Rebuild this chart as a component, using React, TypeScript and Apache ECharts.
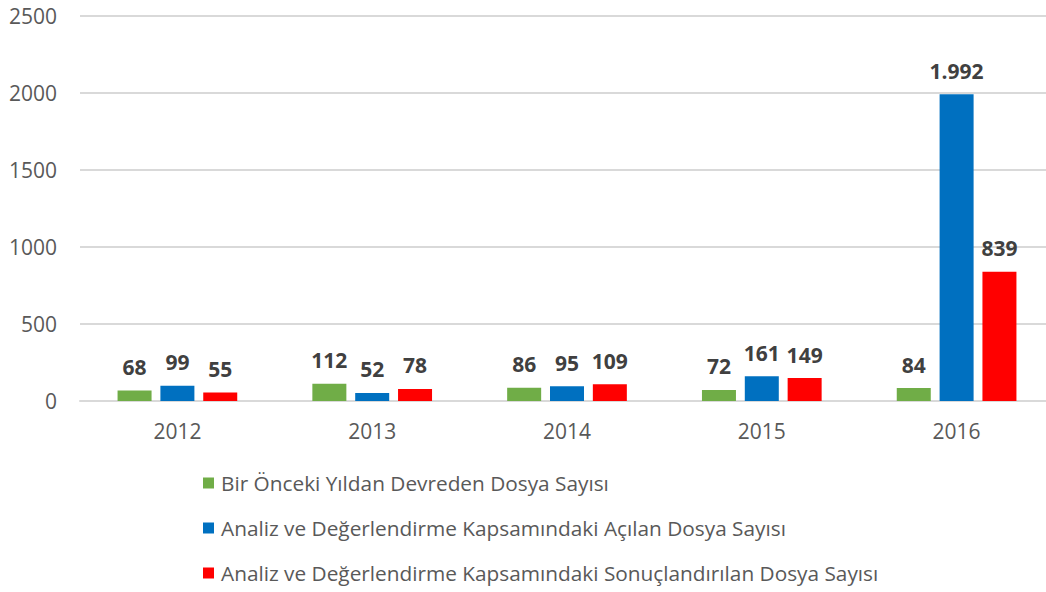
import React, { useEffect, useRef } from "react";
import * as echarts from "echarts";

const years = ["2012", "2013", "2014", "2015", "2016"];
const seriesNames = [
  "Bir Önceki Yıldan Devreden Dosya Sayısı",
  "Analiz ve Değerlendirme Kapsamındaki Açılan Dosya Sayısı",
  "Analiz ve Değerlendirme Kapsamındaki Sonuçlandırılan Dosya Sayısı",
];
const devreden = [68, 112, 86, 72, 84];
const acilan = [99, 52, 95, 161, 1992];
const sonuclandirilan = [55, 78, 109, 149, 839];
const colors = ["#70AD47", "#0070C0", "#FF0000"];

const fmt = (v: number) => String(v).replace(/\B(?=(\d{3})+(?!\d))/g, ".");

export default function App() {
  const ref = useRef<HTMLDivElement>(null);
  useEffect(() => {
    if (!ref.current) return;
    const chart = echarts.init(ref.current, undefined, { renderer: "svg" });
    const font = "'Open Sans', 'Noto Sans', sans-serif";
    const values = [devreden, acilan, sonuclandirilan];
    chart.setOption({
      animation: false,
      textStyle: { fontFamily: font },
      grid: { left: 80, top: 16, width: 974, height: 385, containLabel: false },
      legend: {
        orient: "vertical",
        left: 203,
        top: 472,
        height: 120,
        padding: 0,
        itemWidth: 11,
        itemHeight: 11,
        itemGap: 23,
        icon: "rect",
        textStyle: { fontSize: 20.8, color: "#595959", fontFamily: font, lineHeight: 22, padding: [0, 0, 0, 2] },
        data: seriesNames,
      },
      xAxis: {
        type: "category",
        data: years,
        axisLine: { lineStyle: { color: "#D9D9D9", width: 2 } },
        axisTick: { show: false },
        axisLabel: { fontSize: 21, color: "#595959", margin: 19, fontFamily: font },
      },
      yAxis: {
        type: "value",
        min: 0,
        max: 2500,
        interval: 500,
        axisLine: { show: false },
        axisTick: { show: false },
        splitLine: { lineStyle: { color: "#D9D9D9", width: 2 } },
        axisLabel: {
          fontSize: 21,
          color: "#595959",
          margin: 23,
          fontFamily: font,
          formatter: (v: number) => String(v),
        },
      },
      series: seriesNames.map((name, i) => ({
        name,
        type: "bar",
        data: values[i],
        barWidth: 34,
        barGap: "26%",
        itemStyle: { color: colors[i] },
        label: {
          show: true,
          position: "top",
          distance: 13,
          fontSize: 21,
          fontWeight: "bold",
          color: "#404040",
          fontFamily: font,
          formatter: (p: any) => fmt(p.value),
        },
      })),
    });
    return () => chart.dispose();
  }, []);
  return (
    <div
      ref={ref}
      style={{ position: "fixed", left: 0, top: 0, width: 1070, height: 592, background: "#fff" }}
    />
  );
}
